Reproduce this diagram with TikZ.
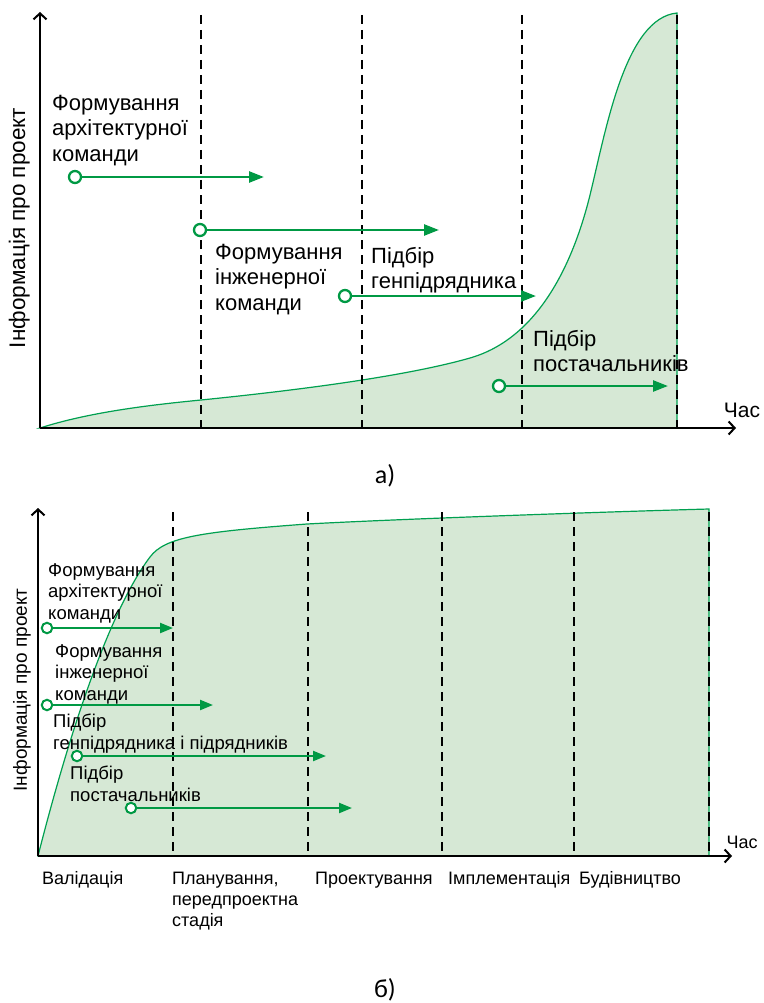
\documentclass[tikz,border=0pt]{standalone}
\usepackage{fontspec}
\setmainfont{Liberation Sans}
\newfontfamily\capfont{Carlito}
\usetikzlibrary{arrows.meta}
\definecolor{grn}{RGB}{0,153,68}
\definecolor{lgrn}{RGB}{214,232,213}
\definecolor{cgrn}{RGB}{0,160,80}
\begin{document}
\begin{tikzpicture}[x=1pt,y=-1pt,
  area/.style={fill=lgrn, draw=cgrn, line width=1.2pt},
  phase/.style={draw=black, line width=2pt, dash pattern=on 9pt off 6pt},
  axis/.style={draw=black, line width=2pt, -{Straight Barb[length=6pt,width=13pt]}},
  task/.style={draw=grn, line width=2.5pt, -{Triangle[length=15pt,width=11pt]}},
  tasksm/.style={draw=grn, line width=2.2pt, -{Triangle[length=13pt,width=10pt]}},
  startpt/.style={circle, draw=grn, fill=white, line width=2.3pt, minimum size=12pt, inner sep=0pt},
  startsm/.style={circle, draw=grn, fill=white, line width=2pt, minimum size=10.5pt, inner sep=0pt},
  bigtxt/.style={anchor=north west, align=left, inner sep=0pt, font=\fontsize{22}{25.5}\selectfont},
  smtxt/.style={anchor=north west, align=left, inner sep=0pt, font=\fontsize{18.5}{21.5}\selectfont},
  phasetxt/.style={anchor=north west, align=left, inner sep=0pt, font=\fontsize{18}{21}\selectfont},
  ylab/.style={rotate=90, anchor=base, inner sep=0pt},
  sublab/.style={inner sep=0pt, font=\capfont\fontsize{26}{30}\selectfont}
]
\useasboundingbox (0,0) rectangle (763,1003);

% ================= top chart (a) =================
\path[area] (40,428) .. controls (90,412) and (150,405) .. (201,400)
  .. controls (280,392) and (400,378) .. (470,358)
  .. controls (540,338) and (574,260) .. (590,195)
  .. controls (606,130) and (625,18) .. (677,13)
  -- (677,428) -- cycle;

\node[bigtxt] (ta1) at (52,95) {Формування\\архітектурної\\команди};
\node[bigtxt] (ta2) at (215,244) {Формування\\інженерної\\команди};
\node[bigtxt] (ta3) at (371,247) {Підбір\\генпідрядника};
\node[bigtxt] (ta4) at (533,330) {Підбір\\постачальників};

\foreach \x in {201,362,522,677} \draw[phase] (\x,15) -- (\x,428);

\coordinate (aO) at (40,428);
\coordinate (aY) at (40,12);
\coordinate (aX) at (736,428);
\draw[axis] (aO) -- (aY);
\draw[axis] (aO) -- (aX);
\node[ylab, font=\fontsize{22.5}{27}\selectfont] (ay) at (25,228) {Інформація про проект};
\node[font=\fontsize{21}{25}\selectfont, inner sep=0pt] (ax) at (742,410) {Час};

\node[startpt] (ca1) at (75,177) {};
\coordinate (ea1) at (264,177);
\draw[task] (ca1) -- (ea1);
\node[startpt] (ca2) at (200,230) {};
\coordinate (ea2) at (439,230);
\draw[task] (ca2) -- (ea2);
\node[startpt] (ca3) at (345,296) {};
\coordinate (ea3) at (536,296);
\draw[task] (ca3) -- (ea3);
\node[startpt] (ca4) at (499,386) {};
\coordinate (ea4) at (668,386);
\draw[task] (ca4) -- (ea4);

\node[sublab] (la) at (385,476) {а)};

% ================= bottom chart (b) =================
\path[area] (38,856) .. controls (70,730) and (110,610) .. (150,557)
  .. controls (165,537) and (200,532) .. (307,524)
  .. controls (400,519) and (600,512) .. (709,509)
  -- (709,856) -- cycle;

\node[smtxt] (tb1) at (48,563) {Формування\\архітектурної\\команди};
\node[smtxt] (tb2) at (55,644) {Формування\\інженерної\\команди};
\node[smtxt] (tb3) at (53,714) {Підбір\\генпідрядника і підрядників};
\node[smtxt] (tb4) at (70,766) {Підбір\\постачальників};

\foreach \x in {173,308,442,574,709} \draw[phase] (\x,512) -- (\x,856);

\coordinate (bO) at (38,856);
\coordinate (bY) at (38,508);
\coordinate (bX) at (732,856);
\draw[axis] (bO) -- (bY);
\draw[axis] (bO) -- (bX);
\node[ylab, font=\fontsize{19}{23}\selectfont] (by) at (27,690) {Інформація про проект};
\node[font=\fontsize{18}{22}\selectfont, inner sep=0pt] (bx) at (742,842) {Час};

\node[phasetxt] (p1) at (42,871.5) {Валідація};
\node[phasetxt] (p2) at (172,871.5) {Планування,\\передпроектна\\стадія};
\node[phasetxt] (p3) at (315,871.5) {Проектування};
\node[phasetxt] (p4) at (448,871.5) {Імплементація};
\node[phasetxt] (p5) at (579,871.5) {Будівництво};

\node[startsm] (cb1) at (47,628) {};
\coordinate (eb1) at (173,628);
\draw[tasksm] (cb1) -- (eb1);
\node[startsm] (cb2) at (47,705) {};
\coordinate (eb2) at (213,705);
\draw[tasksm] (cb2) -- (eb2);
\node[startsm] (cb3) at (77,756) {};
\coordinate (eb3) at (326,756);
\draw[tasksm] (cb3) -- (eb3);
\node[startsm] (cb4) at (131,808) {};
\coordinate (eb4) at (352,808);
\draw[tasksm] (cb4) -- (eb4);

\node[sublab] (lb) at (385,990) {б)};
\end{tikzpicture}
\end{document}
